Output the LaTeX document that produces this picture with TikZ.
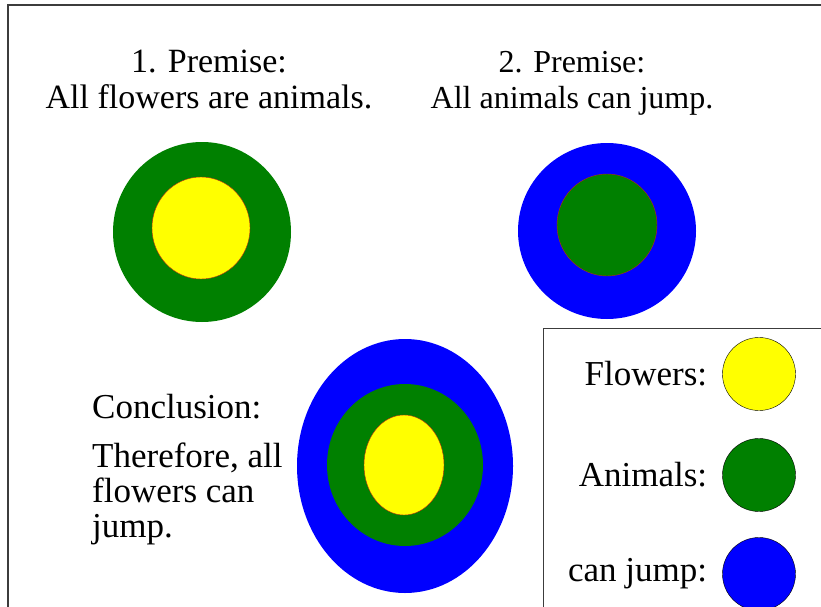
\documentclass[tikz,border=0pt]{standalone}
\usepackage{fontspec}
\setmainfont{Liberation Serif}
\definecolor{flowyellow}{RGB}{255, 255, 0}
\definecolor{animgreen}{RGB}{0, 128, 0}
\definecolor{jumpblue}{RGB}{0, 0, 255}
\definecolor{rimred}{RGB}{190, 40, 20}
\definecolor{framegray}{RGB}{60, 60, 60}

\begin{document}
\begin{tikzpicture}[x=1pt, y=-1pt, every node/.style={inner sep=0pt},
	premise/.style={align=center, font=\fontsize{34}{36}\selectfont},
	bigtext/.style={font=\fontsize{35}{35}\selectfont},
	swatch/.style={circle, draw=black, thin, minimum size=73pt}]
	
	% Fix the page to the size of the picture
	\useasboundingbox (0,0) rectangle (821,607);
	
	% --- Outer frame ---
	\draw[framegray, line width=1.5pt] (8,607) -- (8,5) -- (821,5);
	
	% --- 1. Premise: flowers inside animals ---
	\node[premise, anchor=base] (premone) at (209,109) {1. Premise:\\All flowers are animals.};
	\fill[animgreen] (202,232) ellipse (89pt and 90pt);
	\filldraw[flowyellow, draw=rimred, thin] (201,228) ellipse (49pt and 51pt);
	
	% --- 2. Premise: animals inside can jump ---
	\node[premise, anchor=base, font=\fontsize{32}{36}\selectfont] (premtwo) at (572,109) {2. Premise:\\All animals can jump.};
	\fill[jumpblue] (607,231) ellipse (89pt and 88pt);
	\filldraw[animgreen, draw=rimred, thin] (607,225) ellipse (50pt and 51pt);
	
	% --- Conclusion ---
	\node[bigtext, anchor=base west] (concl) at (92,418) {Conclusion:};
	\node[bigtext, align=left, anchor=base west] (therefore) at (92,537) {Therefore, all\\flowers can\\jump.};
	\fill[jumpblue] (405,466) ellipse (108pt and 127pt);
	\fill[animgreen] (405,465) ellipse (78pt and 81pt);
	\filldraw[flowyellow, draw=rimred, thin] (404,465) ellipse (40pt and 50pt);
	
	% --- Legend (bottom right) ---
	\draw[framegray, thin] (543,607) -- (543,328) -- (821,328);
	\foreach \lbl/\col/\yc in {Flowers:/flowyellow/374, Animals:/animgreen/475, can jump:/jumpblue/574} {
		\node[swatch, fill=\col] (sw\col) at (759,\yc) {};
		\node[bigtext, anchor=east] (lab\col) at ([xshift=-15pt]sw\col.west) {\lbl};
	}
\end{tikzpicture}
\end{document}
